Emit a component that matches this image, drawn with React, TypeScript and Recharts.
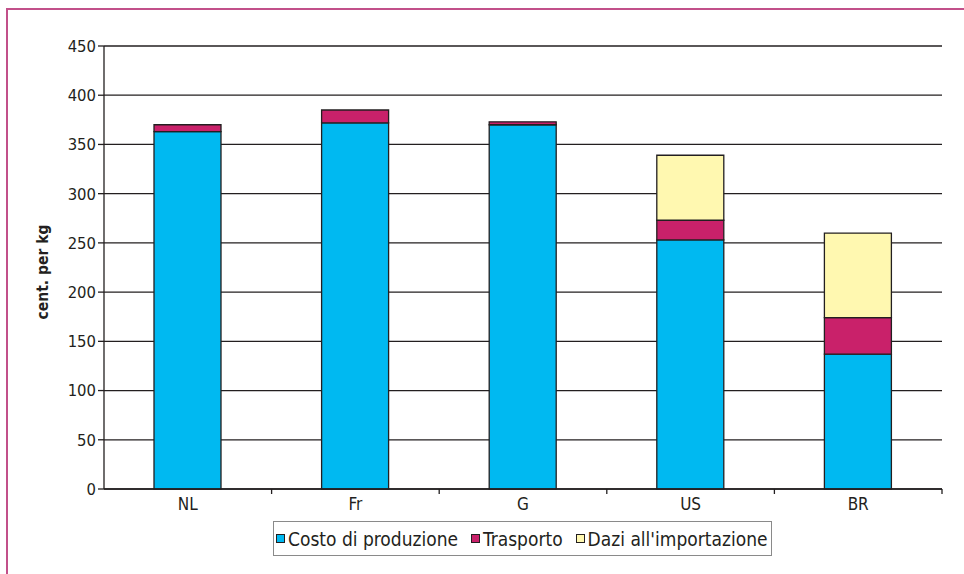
import { Bar, BarChart, CartesianGrid, XAxis, YAxis } from "recharts";

const categories = ["NL", "Fr", "G", "US", "BR"];
const costo = [363, 372, 370, 253, 137];
const trasporto = [7, 13, 3, 20, 37];
const dazi = [0, 0, 0, 66, 86];
const yTicks = [0, 50, 100, 150, 200, 250, 300, 350, 400, 450];

const seriesNames = ["Costo di produzione", "Trasporto", "Dazi all'importazione"];
const seriesKeys = ["costo", "trasporto", "dazi"];
const seriesColors = ["#00B9F1", "#C9216A", "#FFF8B0"];

const data = categories.map((c, i) => ({
  name: c,
  costo: costo[i],
  trasporto: trasporto[i],
  dazi: dazi[i],
}));

const FONT = "'DejaVu Sans Condensed', 'DejaVu Sans', sans-serif";
const INK = "#231f20";
const W = 964;
const H = 574;
const PLOT_LEFT = 104;
const PLOT_RIGHT = 942;
const BAND = (PLOT_RIGHT - PLOT_LEFT) / categories.length;

function XTick(props: any) {
  const { x, y, payload } = props;
  const edge = x + BAND / 2;
  return (
    <g>
      <text
        x={x}
        y={y + 21}
        textAnchor="middle"
        fontFamily={FONT}
        fontStretch="condensed"
        fontSize={17}
        fill={INK}
      >
        {payload.value}
      </text>
      <line x1={edge} x2={edge} y1={y} y2={y + 5} stroke={INK} strokeWidth={1.3} />
    </g>
  );
}

function YLabel() {
  const cx = 43;
  const cy = 272;
  return (
    <text
      x={cx}
      y={cy}
      transform={`rotate(-90 ${cx} ${cy})`}
      textAnchor="middle"
      dominantBaseline="central"
      fontFamily={FONT}
      fontStretch="condensed"
      fontWeight="bold"
      fontSize={15.5}
      fill={INK}
    >
      cent. per kg
    </text>
  );
}

export default function App() {
  return (
    <div
      style={{
        position: "absolute",
        left: 0,
        top: 0,
        width: W,
        height: H,
        background: "#fff",
        overflow: "hidden",
      }}
    >
      {/* magenta frame, top and left */}
      <div
        style={{
          position: "absolute",
          left: 6,
          top: 8,
          right: 0,
          bottom: 0,
          borderTop: "2px solid #C2508A",
          borderLeft: "2px solid #C2508A",
        }}
      />
      <BarChart
        width={W}
        height={H}
        data={data}
        margin={{ top: 46, right: 22, left: 44, bottom: 55 }}
        barSize={67}
        style={{ position: "absolute", left: 0, top: 0 }}
      >
        <CartesianGrid vertical={false} stroke={INK} strokeWidth={1.3} />
        <XAxis
          dataKey="name"
          height={30}
          axisLine={{ stroke: INK, strokeWidth: 1.3 }}
          tickLine={false}
          tickSize={0}
          tickMargin={0}
          tick={<XTick />}
          interval={0}
        />
        <XAxis
          xAxisId="top"
          dataKey="name"
          orientation="top"
          height={0}
          tick={false}
          tickLine={false}
          axisLine={{ stroke: "#9a9a9a", strokeWidth: 1.5 }}
        />
        <YAxis
          width={60}
          domain={[0, 450]}
          ticks={yTicks}
          interval={0}
          axisLine={{ stroke: INK, strokeWidth: 1.3 }}
          tickLine={{ stroke: INK, strokeWidth: 1.3 }}
          tickSize={6}
          tickMargin={2}
          tick={{ fontFamily: FONT, fontSize: 16.5, fill: INK, fontStretch: "condensed" }}
          label={<YLabel />}
        />
        <YAxis
          yAxisId="right"
          orientation="right"
          width={0}
          domain={[0, 450]}
          tick={false}
          tickLine={false}
          axisLine={{ stroke: "#9a9a9a", strokeWidth: 1.5 }}
        />
        {seriesKeys.map((k, i) => (
          <Bar
            key={k}
            dataKey={k}
            name={seriesNames[i]}
            stackId="a"
            fill={seriesColors[i]}
            stroke={INK}
            strokeWidth={1.3}
            isAnimationActive={false}
          />
        ))}
      </BarChart>
      {/* legend */}
      <div
        style={{
          position: "absolute",
          left: 273,
          top: 521,
          width: 499,
          height: 35,
          border: "1px solid #8a8a8a",
          display: "flex",
          alignItems: "center",
          paddingLeft: 2,
          boxSizing: "border-box",
          fontFamily: FONT,
          fontStretch: "condensed",
          fontSize: 19,
          color: INK,
          whiteSpace: "nowrap",
        }}
      >
        {seriesNames.map((n, i) => (
          <div
            key={n}
            style={{ display: "flex", alignItems: "center", marginRight: i < 2 ? 13 : 0 }}
          >
            <span
              style={{
                display: "inline-block",
                width: 7,
                height: 7,
                border: `1px solid ${INK}`,
                background: seriesColors[i],
                marginRight: 3,
              }}
            />
            <span>{n}</span>
          </div>
        ))}
      </div>
    </div>
  );
}
